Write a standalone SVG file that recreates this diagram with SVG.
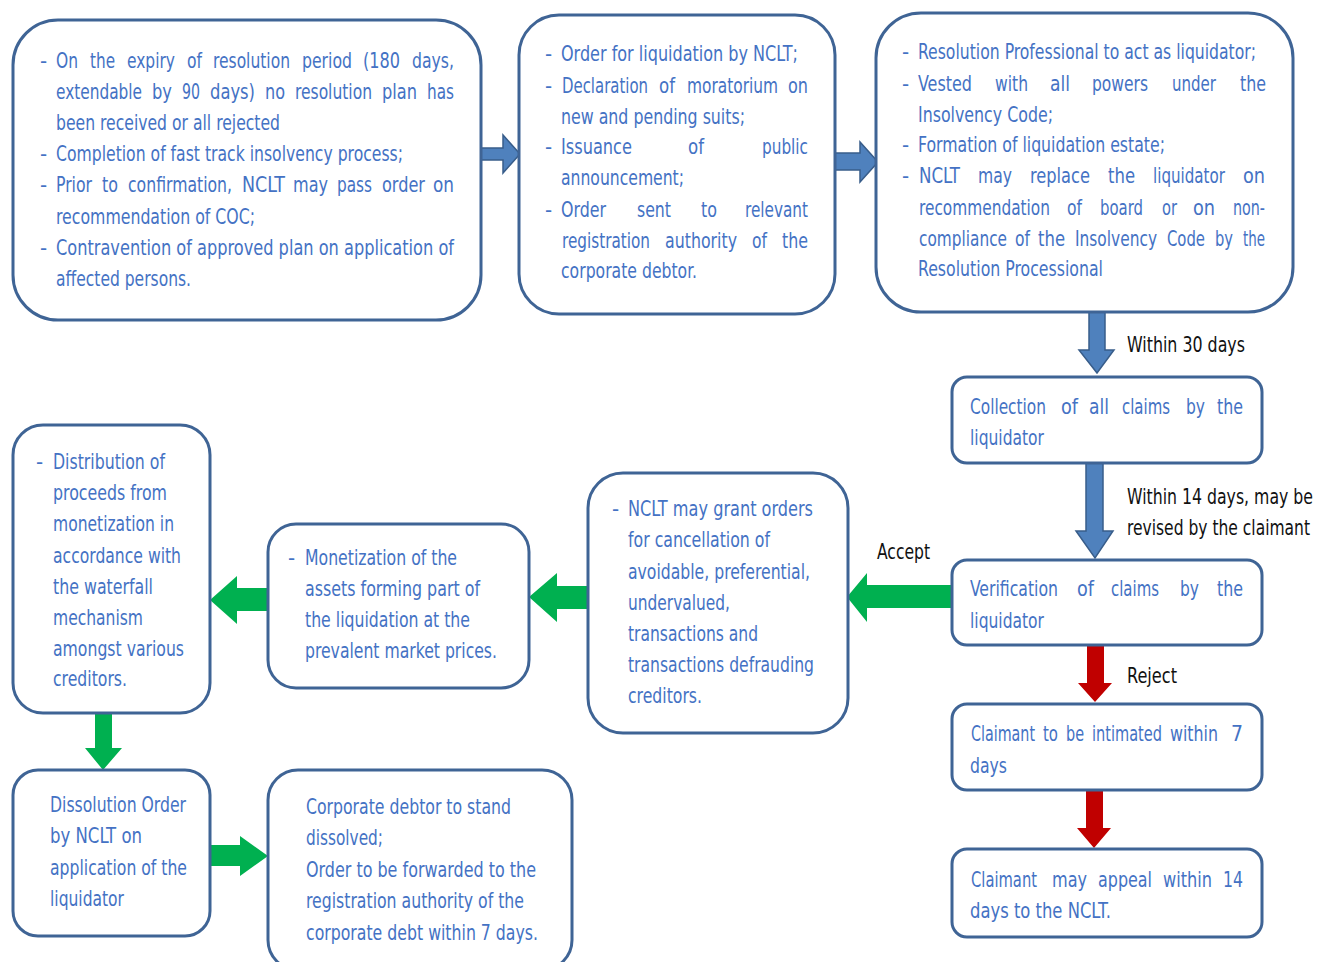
<svg xmlns="http://www.w3.org/2000/svg" width="1317" height="962" viewBox="0 0 1317 962">
<style>
.box{fill:#fff;stroke:#3F6495;stroke-width:3}
text{font-family:"DejaVu Sans Condensed","DejaVu Sans",sans-serif;font-stretch:condensed;font-size:22px}
.t{fill:#4472C4}
.l{fill:#111;font-size:21px}
.blue{fill:#4F81BD;stroke:#385D8A;stroke-width:1.5}
.green{fill:#00B050}
.red{fill:#C00000}
</style>
<rect width="1317" height="962" fill="#fff"/>
<g id="connectors">
<polygon class="blue" points="481,148 503,148 503,135 520,154 503,173 503,160 481,160"/>
<polygon class="blue" points="835,153 860,153 860,142 878,162 860,182 860,170 835,170"/>
<polygon class="blue" points="1089,312 1105,312 1105,350 1114,350 1097,373 1079,350 1089,350"/>
<polygon class="blue" points="1086,463 1103,463 1103,531 1113,531 1095,558 1076,531 1086,531"/>
<polygon class="red" points="1087,645 1104,645 1104,683 1112,683 1095,702 1078,683 1087,683"/>
<polygon class="red" points="1086,790 1103,790 1103,828 1111,828 1094,848 1077,828 1086,828"/>
<polygon class="green" points="952,585 867,585 867,573 847,597 867,622 867,608 952,608"/>
<polygon class="green" points="588,586 557,586 557,573 529,597 557,622 557,609 588,609"/>
<polygon class="green" points="268,588 237,588 237,576 210,600 237,624 237,611 268,611"/>
<polygon class="green" points="95,713 112,713 112,748 122,748 103,770 85,748 95,748"/>
<polygon class="green" points="210,845 240,845 240,836 268,856 240,876 240,866 210,866"/>
<text class="l" x="1127" y="352" textLength="118" lengthAdjust="spacingAndGlyphs">Within 30 days</text>
<text class="l" x="1127" y="504" textLength="186" lengthAdjust="spacingAndGlyphs">Within 14 days, may be</text>
<text class="l" x="1127" y="535" textLength="183" lengthAdjust="spacingAndGlyphs">revised by the claimant</text>
<text class="l" x="877" y="559" textLength="53" lengthAdjust="spacingAndGlyphs">Accept</text>
<text class="l" x="1127" y="683" textLength="50" lengthAdjust="spacingAndGlyphs">Reject</text>
</g>
<g id="n1">
<rect class="box" x="13" y="20" width="468" height="300" rx="45"/>
<text class="t" x="40" y="68">-</text>
<text class="t" x="56" y="68" textLength="22" lengthAdjust="spacingAndGlyphs">On</text>
<text class="t" x="90" y="68" textLength="25" lengthAdjust="spacingAndGlyphs">the</text>
<text class="t" x="127" y="68" textLength="48" lengthAdjust="spacingAndGlyphs">expiry</text>
<text class="t" x="187" y="68" textLength="15" lengthAdjust="spacingAndGlyphs">of</text>
<text class="t" x="213" y="68" textLength="77" lengthAdjust="spacingAndGlyphs">resolution</text>
<text class="t" x="302" y="68" textLength="50" lengthAdjust="spacingAndGlyphs">period</text>
<text class="t" x="363" y="68" textLength="37" lengthAdjust="spacingAndGlyphs">(180</text>
<text class="t" x="412" y="68" textLength="42" lengthAdjust="spacingAndGlyphs">days,</text>
<text class="t" x="56" y="99" textLength="86" lengthAdjust="spacingAndGlyphs">extendable</text>
<text class="t" x="152" y="99" textLength="20" lengthAdjust="spacingAndGlyphs">by</text>
<text class="t" x="182" y="99" textLength="18" lengthAdjust="spacingAndGlyphs">90</text>
<text class="t" x="210" y="99" textLength="45" lengthAdjust="spacingAndGlyphs">days)</text>
<text class="t" x="265" y="99" textLength="20" lengthAdjust="spacingAndGlyphs">no</text>
<text class="t" x="295" y="99" textLength="77" lengthAdjust="spacingAndGlyphs">resolution</text>
<text class="t" x="382" y="99" textLength="35" lengthAdjust="spacingAndGlyphs">plan</text>
<text class="t" x="427" y="99" textLength="27" lengthAdjust="spacingAndGlyphs">has</text>
<text class="t" x="56" y="130" textLength="224" lengthAdjust="spacingAndGlyphs">been received or all rejected</text>
<text class="t" x="40" y="161">-</text>
<text class="t" x="56" y="161" textLength="347" lengthAdjust="spacingAndGlyphs">Completion of fast track insolvency process;</text>
<text class="t" x="40" y="192">-</text>
<text class="t" x="56" y="192" textLength="36" lengthAdjust="spacingAndGlyphs">Prior</text>
<text class="t" x="102" y="192" textLength="16" lengthAdjust="spacingAndGlyphs">to</text>
<text class="t" x="128" y="192" textLength="104" lengthAdjust="spacingAndGlyphs">confirmation,</text>
<text class="t" x="242" y="192" textLength="43" lengthAdjust="spacingAndGlyphs">NCLT</text>
<text class="t" x="293" y="192" textLength="35" lengthAdjust="spacingAndGlyphs">may</text>
<text class="t" x="337" y="192" textLength="35" lengthAdjust="spacingAndGlyphs">pass</text>
<text class="t" x="382" y="192" textLength="43" lengthAdjust="spacingAndGlyphs">order</text>
<text class="t" x="433" y="192" textLength="21" lengthAdjust="spacingAndGlyphs">on</text>
<text class="t" x="56" y="224" textLength="199" lengthAdjust="spacingAndGlyphs">recommendation of COC;</text>
<text class="t" x="40" y="255">-</text>
<text class="t" x="56" y="255" textLength="398" lengthAdjust="spacingAndGlyphs">Contravention of approved plan on application of</text>
<text class="t" x="56" y="286" textLength="135" lengthAdjust="spacingAndGlyphs">affected persons.</text>
</g>
<g id="n2">
<rect class="box" x="519" y="15" width="316" height="299" rx="40"/>
<text class="t" x="545" y="61">-</text>
<text class="t" x="561" y="61" textLength="237" lengthAdjust="spacingAndGlyphs">Order for liquidation by NCLT;</text>
<text class="t" x="545" y="93">-</text>
<text class="t" x="562" y="93" textLength="86" lengthAdjust="spacingAndGlyphs">Declaration</text>
<text class="t" x="659" y="93" textLength="16" lengthAdjust="spacingAndGlyphs">of</text>
<text class="t" x="687" y="93" textLength="91" lengthAdjust="spacingAndGlyphs">moratorium</text>
<text class="t" x="788" y="93" textLength="20" lengthAdjust="spacingAndGlyphs">on</text>
<text class="t" x="561" y="124" textLength="184" lengthAdjust="spacingAndGlyphs">new and pending suits;</text>
<text class="t" x="545" y="154">-</text>
<text class="t" x="561" y="154" textLength="71" lengthAdjust="spacingAndGlyphs">Issuance</text>
<text class="t" x="688" y="154" textLength="16" lengthAdjust="spacingAndGlyphs">of</text>
<text class="t" x="762" y="154" textLength="46" lengthAdjust="spacingAndGlyphs">public</text>
<text class="t" x="561" y="185" textLength="123" lengthAdjust="spacingAndGlyphs">announcement;</text>
<text class="t" x="545" y="217">-</text>
<text class="t" x="561" y="217" textLength="45" lengthAdjust="spacingAndGlyphs">Order</text>
<text class="t" x="637" y="217" textLength="34" lengthAdjust="spacingAndGlyphs">sent</text>
<text class="t" x="701" y="217" textLength="16" lengthAdjust="spacingAndGlyphs">to</text>
<text class="t" x="745" y="217" textLength="63" lengthAdjust="spacingAndGlyphs">relevant</text>
<text class="t" x="562" y="248" textLength="88" lengthAdjust="spacingAndGlyphs">registration</text>
<text class="t" x="665" y="248" textLength="72" lengthAdjust="spacingAndGlyphs">authority</text>
<text class="t" x="752" y="248" textLength="15" lengthAdjust="spacingAndGlyphs">of</text>
<text class="t" x="782" y="248" textLength="26" lengthAdjust="spacingAndGlyphs">the</text>
<text class="t" x="561" y="278" textLength="136" lengthAdjust="spacingAndGlyphs">corporate debtor.</text>
</g>
<g id="n3">
<rect class="box" x="876" y="13" width="417" height="299" rx="45"/>
<text class="t" x="902" y="59">-</text>
<text class="t" x="918" y="59" textLength="338" lengthAdjust="spacingAndGlyphs">Resolution Professional to act as liquidator;</text>
<text class="t" x="902" y="91">-</text>
<text class="t" x="918" y="91" textLength="54" lengthAdjust="spacingAndGlyphs">Vested</text>
<text class="t" x="995" y="91" textLength="33" lengthAdjust="spacingAndGlyphs">with</text>
<text class="t" x="1050" y="91" textLength="20" lengthAdjust="spacingAndGlyphs">all</text>
<text class="t" x="1092" y="91" textLength="56" lengthAdjust="spacingAndGlyphs">powers</text>
<text class="t" x="1172" y="91" textLength="44" lengthAdjust="spacingAndGlyphs">under</text>
<text class="t" x="1240" y="91" textLength="26" lengthAdjust="spacingAndGlyphs">the</text>
<text class="t" x="918" y="122" textLength="135" lengthAdjust="spacingAndGlyphs">Insolvency Code;</text>
<text class="t" x="902" y="152">-</text>
<text class="t" x="918" y="152" textLength="247" lengthAdjust="spacingAndGlyphs">Formation of liquidation estate;</text>
<text class="t" x="902" y="183">-</text>
<text class="t" x="919" y="183" textLength="41" lengthAdjust="spacingAndGlyphs">NCLT</text>
<text class="t" x="978" y="183" textLength="34" lengthAdjust="spacingAndGlyphs">may</text>
<text class="t" x="1030" y="183" textLength="60" lengthAdjust="spacingAndGlyphs">replace</text>
<text class="t" x="1108" y="183" textLength="27" lengthAdjust="spacingAndGlyphs">the</text>
<text class="t" x="1153" y="183" textLength="72" lengthAdjust="spacingAndGlyphs">liquidator</text>
<text class="t" x="1243" y="183" textLength="22" lengthAdjust="spacingAndGlyphs">on</text>
<text class="t" x="919" y="215" textLength="131" lengthAdjust="spacingAndGlyphs">recommendation</text>
<text class="t" x="1067" y="215" textLength="15" lengthAdjust="spacingAndGlyphs">of</text>
<text class="t" x="1100" y="215" textLength="43" lengthAdjust="spacingAndGlyphs">board</text>
<text class="t" x="1162" y="215" textLength="15" lengthAdjust="spacingAndGlyphs">or</text>
<text class="t" x="1193" y="215" textLength="22" lengthAdjust="spacingAndGlyphs">on</text>
<text class="t" x="1233" y="215" textLength="32" lengthAdjust="spacingAndGlyphs">non-</text>
<text class="t" x="919" y="246" textLength="88" lengthAdjust="spacingAndGlyphs">compliance</text>
<text class="t" x="1015" y="246" textLength="15" lengthAdjust="spacingAndGlyphs">of</text>
<text class="t" x="1038" y="246" textLength="27" lengthAdjust="spacingAndGlyphs">the</text>
<text class="t" x="1075" y="246" textLength="82" lengthAdjust="spacingAndGlyphs">Insolvency</text>
<text class="t" x="1167" y="246" textLength="38" lengthAdjust="spacingAndGlyphs">Code</text>
<text class="t" x="1215" y="246" textLength="18" lengthAdjust="spacingAndGlyphs">by</text>
<text class="t" x="1243" y="246" textLength="22" lengthAdjust="spacingAndGlyphs">the</text>
<text class="t" x="918" y="276" textLength="185" lengthAdjust="spacingAndGlyphs">Resolution Processional</text>
</g>
<g id="n4">
<rect class="box" x="952" y="377" width="310" height="86" rx="15"/>
<text class="t" x="970" y="414" textLength="76" lengthAdjust="spacingAndGlyphs">Collection</text>
<text class="t" x="1061" y="414" textLength="17" lengthAdjust="spacingAndGlyphs">of</text>
<text class="t" x="1089" y="414" textLength="20" lengthAdjust="spacingAndGlyphs">all</text>
<text class="t" x="1122" y="414" textLength="48" lengthAdjust="spacingAndGlyphs">claims</text>
<text class="t" x="1186" y="414" textLength="19" lengthAdjust="spacingAndGlyphs">by</text>
<text class="t" x="1217" y="414" textLength="26" lengthAdjust="spacingAndGlyphs">the</text>
<text class="t" x="970" y="445" textLength="74" lengthAdjust="spacingAndGlyphs">liquidator</text>
</g>
<g id="n5">
<rect class="box" x="952" y="560" width="310" height="85" rx="15"/>
<text class="t" x="970" y="596" textLength="88" lengthAdjust="spacingAndGlyphs">Verification</text>
<text class="t" x="1077" y="596" textLength="17" lengthAdjust="spacingAndGlyphs">of</text>
<text class="t" x="1111" y="596" textLength="48" lengthAdjust="spacingAndGlyphs">claims</text>
<text class="t" x="1180" y="596" textLength="19" lengthAdjust="spacingAndGlyphs">by</text>
<text class="t" x="1217" y="596" textLength="26" lengthAdjust="spacingAndGlyphs">the</text>
<text class="t" x="970" y="628" textLength="74" lengthAdjust="spacingAndGlyphs">liquidator</text>
</g>
<g id="n6">
<rect class="box" x="952" y="704" width="310" height="86" rx="15"/>
<text class="t" x="971" y="741" textLength="64" lengthAdjust="spacingAndGlyphs">Claimant</text>
<text class="t" x="1043" y="741" textLength="15" lengthAdjust="spacingAndGlyphs">to</text>
<text class="t" x="1066" y="741" textLength="18" lengthAdjust="spacingAndGlyphs">be</text>
<text class="t" x="1092" y="741" textLength="70" lengthAdjust="spacingAndGlyphs">intimated</text>
<text class="t" x="1170" y="741" textLength="48" lengthAdjust="spacingAndGlyphs">within</text>
<text class="t" x="1231" y="741" textLength="12" lengthAdjust="spacingAndGlyphs">7</text>
<text class="t" x="970" y="773" textLength="37" lengthAdjust="spacingAndGlyphs">days</text>
</g>
<g id="n7">
<rect class="box" x="952" y="849" width="310" height="88" rx="15"/>
<text class="t" x="971" y="887" textLength="66" lengthAdjust="spacingAndGlyphs">Claimant</text>
<text class="t" x="1052" y="887" textLength="35" lengthAdjust="spacingAndGlyphs">may</text>
<text class="t" x="1098" y="887" textLength="54" lengthAdjust="spacingAndGlyphs">appeal</text>
<text class="t" x="1163" y="887" textLength="49" lengthAdjust="spacingAndGlyphs">within</text>
<text class="t" x="1223" y="887" textLength="20" lengthAdjust="spacingAndGlyphs">14</text>
<text class="t" x="970" y="918" textLength="141" lengthAdjust="spacingAndGlyphs">days to the NCLT.</text>
</g>
<g id="n8">
<rect class="box" x="588" y="473" width="260" height="260" rx="35"/>
<text class="t" x="612" y="516">-</text>
<text class="t" x="628" y="516" textLength="185" lengthAdjust="spacingAndGlyphs">NCLT may grant orders</text>
<text class="t" x="628" y="547" textLength="142" lengthAdjust="spacingAndGlyphs">for cancellation of</text>
<text class="t" x="628" y="579" textLength="182" lengthAdjust="spacingAndGlyphs">avoidable, preferential,</text>
<text class="t" x="628" y="610" textLength="102" lengthAdjust="spacingAndGlyphs">undervalued,</text>
<text class="t" x="628" y="641" textLength="130" lengthAdjust="spacingAndGlyphs">transactions and</text>
<text class="t" x="628" y="672" textLength="186" lengthAdjust="spacingAndGlyphs">transactions defrauding</text>
<text class="t" x="628" y="703" textLength="74" lengthAdjust="spacingAndGlyphs">creditors.</text>
</g>
<g id="n9">
<rect class="box" x="268" y="524" width="261" height="164" rx="28"/>
<text class="t" x="288" y="565">-</text>
<text class="t" x="305" y="565" textLength="152" lengthAdjust="spacingAndGlyphs">Monetization of the</text>
<text class="t" x="305" y="596" textLength="175" lengthAdjust="spacingAndGlyphs">assets forming part of</text>
<text class="t" x="305" y="627" textLength="165" lengthAdjust="spacingAndGlyphs">the liquidation at the</text>
<text class="t" x="305" y="658" textLength="192" lengthAdjust="spacingAndGlyphs">prevalent market prices.</text>
</g>
<g id="n10">
<rect class="box" x="13" y="425" width="197" height="288" rx="30"/>
<text class="t" x="36" y="469">-</text>
<text class="t" x="53" y="469" textLength="112" lengthAdjust="spacingAndGlyphs">Distribution of</text>
<text class="t" x="53" y="500" textLength="114" lengthAdjust="spacingAndGlyphs">proceeds from</text>
<text class="t" x="53" y="531" textLength="121" lengthAdjust="spacingAndGlyphs">monetization in</text>
<text class="t" x="53" y="563" textLength="128" lengthAdjust="spacingAndGlyphs">accordance with</text>
<text class="t" x="53" y="594" textLength="100" lengthAdjust="spacingAndGlyphs">the waterfall</text>
<text class="t" x="53" y="625" textLength="90" lengthAdjust="spacingAndGlyphs">mechanism</text>
<text class="t" x="53" y="656" textLength="131" lengthAdjust="spacingAndGlyphs">amongst various</text>
<text class="t" x="53" y="686" textLength="74" lengthAdjust="spacingAndGlyphs">creditors.</text>
</g>
<g id="n11">
<rect class="box" x="13" y="770" width="197" height="166" rx="25"/>
<text class="t" x="50" y="812" textLength="136" lengthAdjust="spacingAndGlyphs">Dissolution Order</text>
<text class="t" x="50" y="843" textLength="92" lengthAdjust="spacingAndGlyphs">by NCLT on</text>
<text class="t" x="50" y="875" textLength="137" lengthAdjust="spacingAndGlyphs">application of the</text>
<text class="t" x="50" y="906" textLength="74" lengthAdjust="spacingAndGlyphs">liquidator</text>
</g>
<g id="n12">
<rect class="box" x="268" y="770" width="304" height="200" rx="30"/>
<text class="t" x="306" y="814" textLength="205" lengthAdjust="spacingAndGlyphs">Corporate debtor to stand</text>
<text class="t" x="306" y="845" textLength="77" lengthAdjust="spacingAndGlyphs">dissolved;</text>
<text class="t" x="306" y="877" textLength="230" lengthAdjust="spacingAndGlyphs">Order to be forwarded to the</text>
<text class="t" x="306" y="908" textLength="218" lengthAdjust="spacingAndGlyphs">registration authority of the</text>
<text class="t" x="306" y="940" textLength="232" lengthAdjust="spacingAndGlyphs">corporate debt within 7 days.</text>
</g>
</svg>
